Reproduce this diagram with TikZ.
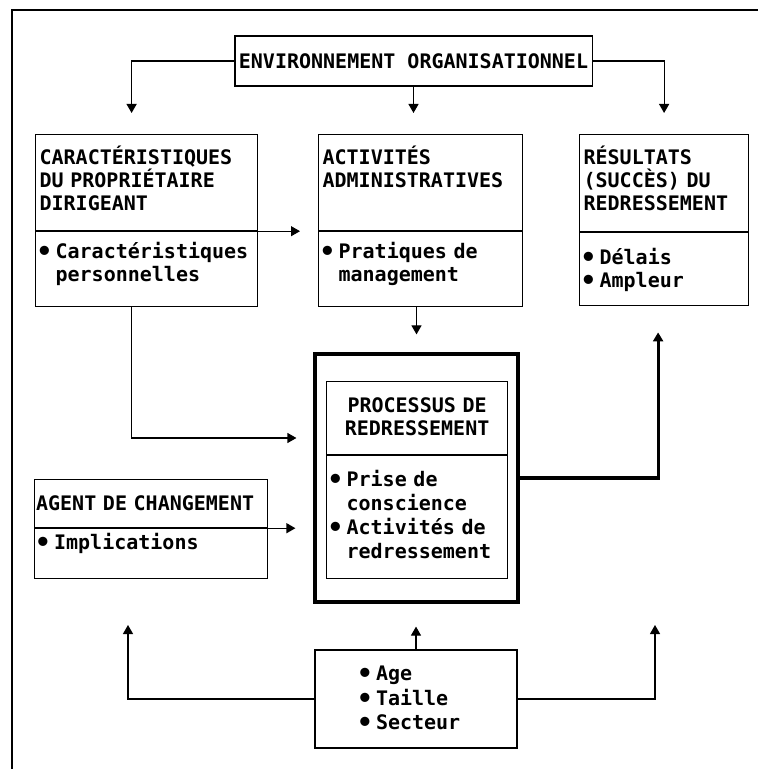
\documentclass[tikz,border=0pt]{standalone}
\usepackage{fontspec}
\setmonofont{DejaVu Sans Mono}
\usetikzlibrary{arrows.meta,positioning}
\newcommand{\bul}{\makebox[8pt][l]{\kern-1.5pt\raisebox{-0.9pt}{\fontsize{13}{12}\selectfont•}}}
\newcommand{\bsp}{\hspace*{8pt}}
\begin{document}
\begin{tikzpicture}[x=0.5pt,y=-0.5pt,
box/.style ={rectangle, draw, line width=0.6pt,
  inner xsep=2pt, inner ysep=0pt, align=left,
  font=\ttfamily\bfseries\fontsize{10}{11.5}\selectfont
},
arr/.style ={line width=0.6pt, -{Triangle[width=5pt,length=4.5pt]}}
]
\useasboundingbox (0,0) rectangle (758,769);
\draw[line width=0.6pt] (12,769) -- (12,10) -- (758,10);

\node (env) at (413.5,61) [box, minimum width=178.5pt, minimum height=25pt] {ENVIRONNEMENT ORGANISATIONNEL};

\node (carH) at (35,134) [box, anchor=north west, text width=107pt, text height=15pt, text depth=33pt]
  {CARACTÉRISTIQUES\\DU PROPRIÉTAIRE\\DIRIGEANT};
\node (carB) [box, below=0pt of carH, text width=107pt, text height=13.5pt, text depth=24pt]
  {\bul Caractéristiques\\\bsp personnelles};
\node (actH) at (318,134) [box, anchor=north west, text width=98pt, text height=15pt, text depth=33pt]
  {ACTIVITÉS\\ADMINISTRATIVES};
\node (actB) [box, below=0pt of actH, text width=98pt, text height=13.5pt, text depth=24pt]
  {\bul Pratiques de\\\bsp management};
\node (resH) at (579,134) [box, anchor=north west, text width=80.5pt, text height=15pt, text depth=33.5pt]
  {RÉSULTATS\\(SUCCÈS) DU\\REDRESSEMENT};
\node (resB) [box, below=0pt of resH, text width=80.5pt, text height=16pt, text depth=20.5pt]
  {\bul Délais\\\bul Ampleur};

\node (proc) at (416.5,478) [box, line width=1.6pt, minimum width=101.5pt, minimum height=124pt] {};
\node (procH) at (326,381) [box, anchor=north west, text width=86.5pt, align=center, text height=15.5pt, text depth=21pt]
  {PROCESSUS DE\\REDRESSEMENT};
\node (procB) [box, below=0pt of procH, text width=86.5pt, text height=15.5pt, text depth=46pt,
  font=\ttfamily\bfseries\fontsize{10}{12}\selectfont]
  {\bul Prise de\\\bsp conscience\\\bul Activités de\\\bsp redressement};

\node (agH) at (34,479) [box, anchor=north west, inner xsep=0.75pt, text width=115pt, text height=15.5pt, text depth=8.5pt]
  {AGENT DE CHANGEMENT};
\node (agB) [box, below=0pt of agH, inner xsep=0.75pt, text width=115pt, text height=10.5pt, text depth=14.5pt]
  {\kern1pt\bul Implications};

\node (bot) at (416,699) [box, minimum width=101pt, minimum height=49pt, text width=56pt,
  font=\ttfamily\bfseries\fontsize{10}{12.2}\selectfont]
  {\bul Age\\\bul Taille\\\bul Secteur};
\coordinate (tipL) at (128,625);
\coordinate (tipR) at (655,625);

% environnement
\draw[arr, shorten >=10.5pt] (env.west) -| ([xshift=-7.5pt]carH.north);
\draw[arr, shorten >=10.5pt] (env.south) -- (env.south |- actH.north);
\draw[arr, shorten >=10.5pt] (env.east) -| (resH.north);
% vers le processus
\draw[arr, shorten >=9pt] (carH.south east) -- (actH.south west);
\draw[arr, shorten >=8.5pt] ([xshift=-7.5pt]carB.south) |- ([yshift=20pt]proc.west);
\draw[arr, shorten >=9pt] (actB.south -| proc.north) -- (proc.north);
\draw[arr, shorten >=9pt] (agH.south east) -- (agH.south east -| proc.west);
\draw[arr, line width=1.6pt, shorten >=13pt] (proc.east) -| ([xshift=-3pt]resB.south);
% contexte
\draw[arr] (bot.west) -| (tipL);
\draw[arr, shorten >=11.5pt] (bot.north) -- (bot.north |- proc.south);
\draw[arr] (bot.east) -| (tipR);
\end{tikzpicture}
\end{document}
